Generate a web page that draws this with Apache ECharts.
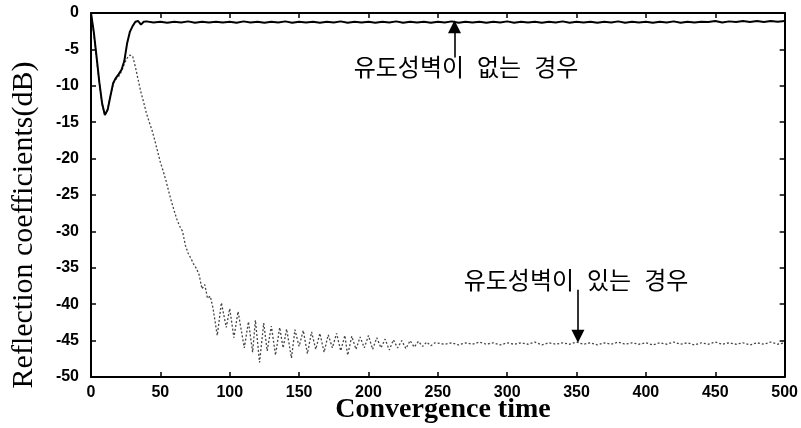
<!DOCTYPE html>
<html>
<head>
<meta charset="utf-8">
<script src="https://cdn.jsdelivr.net/npm/echarts@6.0.0/dist/echarts.min.js"></script>
<style>
    html, body { margin: 0; padding: 0; background: #fff; }
    #reflectChart { width: 801px; height: 428px; }
</style>
</head>
<body>
<div id="reflectChart"></div>
<script>
// 유도성벽이 없는 경우 (solid)
var timeNoWall = [0,2,4,6,8,10,12,14,16,18,20,22,24,26,28,30,32,34,36,38,40,
    45,50,55,60,65,70,75,80,85,90,95,100,105,110,115,120,125,130,135,140,
    145,150,155,160,165,170,175,180,185,190,195,200,205,210,215,220,225,230,235,240,
    245,250,255,260,265,270,275,280,285,290,295,300,305,310,315,320,325,330,335,340,
    345,350,355,360,365,370,375,380,385,390,395,400,405,410,415,420,425,430,435,440,
    445,450,455,460,465,470,475,480,485,490,495,500];
var dbNoWall = [0,-2.6,-6,-9.5,-12.4,-14.0,-13.3,-11.4,-9.6,-8.9,-8.4,-7.8,-6.6,-4.2,-2.6,-1.8,-1.2,-1.1,-1.6,-1.2,-1.15,
    -1.3,-1.2,-1.35,-1.2,-1.3,-1.15,-1.35,-1.2,-1.3,-1.2,
    -1.3,-1.2,-1.35,-1.15,-1.3,-1.2,-1.35,-1.2,-1.3,-1.15,
    -1.35,-1.2,-1.3,-1.2,-1.35,-1.2,-1.3,-1.15,-1.35,-1.2,
    -1.3,-1.2,-1.35,-1.2,-1.3,-1.15,-1.35,-1.2,-1.3,-1.2,
    -1.35,-1.2,-1.3,-1.15,-1.35,-1.2,-1.3,-1.2,-1.35,-1.2,
    -1.3,-1.15,-1.35,-1.2,-1.3,-1.2,-1.35,-1.2,-1.3,-1.15,
    -1.35,-1.2,-1.3,-1.2,-1.35,-1.2,-1.3,-1.15,-1.35,-1.2,
    -1.3,-1.2,-1.35,-1.2,-1.3,-1.15,-1.35,-1.2,-1.3,-1.2,
    -1.25,-1.1,-1.3,-1.15,-1.25,-1.1,-1.25,-1.1,-1.25,-1.1,
    -1.2,-1.1];

// 유도성벽이 있는 경우 (dotted)
var timeWall = [0,2,4,6,8,10,12,14,16,18,20,22,24,26,28,30,32,34,36,38,40,42,44,46,48,50,
    52,54,56,58,60,62,64,66,68,70,72,74,76,78,80,82,84,86,88,
    91,94,97.5,100,103,106,110.5,113.5,116.5,118.5,121.5,124.5,127,130,133,136,138.5,141,144.5,147,
    150,153,156,159,162,165,168,171,174,177,180,183,185,188,191,194,197,200,203,206,209,212,215,218,
    221,224,227,230,233,236,239,242,245,248,
    255,260,265,270,275,280,285,290,295,300,305,310,315,320,325,330,335,340,345,350,
    355,360,365,370,375,380,385,390,395,400,405,410,415,420,425,430,435,440,445,450,
    455,460,465,470,475,480,485,490,495,500];
var dbWall = [0,-2.8,-6.2,-9.6,-12.6,-14.0,-13.2,-11.4,-9.8,-9.1,-8.7,-8.0,-7.0,-6.2,-5.8,-5.9,-7.4,-9.2,-10.9,-12.3,-13.8,-15.0,-16.1,-17.5,-19.0,-20.5,
    -21.7,-23.0,-24.5,-25.9,-27.2,-28.4,-29.3,-30.0,-31.9,-33.0,-33.7,-34.5,-35.1,-36.0,-37.9,-37.3,-39.2,-38.9,-40.6,
    -44.3,-39.8,-43.2,-40.6,-44.6,-41.0,-46.0,-42.4,-46.6,-42.2,-48.0,-42.6,-46.4,-43.0,-47.0,-43.2,-46.0,-43.4,-47.4,-43.5,
    -45.8,-43.6,-46.8,-43.8,-46.2,-44.0,-46.6,-44.2,-46.0,-44.0,-46.4,-44.3,-47.0,-44.4,-46.2,-44.5,-46.0,-44.3,-46.2,-44.6,-46.0,-44.8,-46.3,-44.9,
    -46.0,-45.0,-46.1,-45.0,-45.9,-45.1,-45.8,-45.2,-45.7,-45.3,
    -45.5,-45.3,-45.6,-45.3,-45.5,-45.2,-45.5,-45.3,-45.6,-45.3,
    -45.5,-45.3,-45.5,-45.2,-45.6,-45.3,-45.5,-45.3,-45.5,-45.2,
    -45.5,-45.3,-45.6,-45.3,-45.5,-45.2,-45.5,-45.3,-45.5,-45.3,
    -45.6,-45.3,-45.5,-45.2,-45.5,-45.3,-45.6,-45.3,-45.5,-45.2,
    -45.5,-45.3,-45.5,-45.3,-45.6,-45.3,-45.5,-45.2,-45.5,-45.3];

var xTicks = [0, 500, 50];     // min, max, interval
var yTicks = [-50, 0, 5];

var textNoWall = '유도성벽이 없는 경우';
var textWall = '유도성벽이 있는 경우';

function toPairs(xs, ys) {
    return xs.map(function (x, i) { return [x, ys[i]]; });
}

function frameAxis(pos, ticks, showLabel) {
    return {
        type: 'value',
        position: pos,
        min: ticks[0],
        max: ticks[1],
        interval: ticks[2],
        axisLine: { show: true, onZero: false, lineStyle: { color: '#000', width: 2 } },
        axisTick: { show: true, inside: true, length: 5, lineStyle: { color: '#000', width: 1.5 } },
        splitLine: { show: false },
        axisLabel: {
            show: showLabel,
            color: '#000',
            fontFamily: 'Liberation Sans',
            fontWeight: 'bold',
            fontSize: 16,
            margin: pos === 'bottom' ? 8 : 12
        }
    };
}

// hangul label with wider word gaps
function spaced(txt) {
    return txt.split(' ').map(function (w) { return '{g|' + w + '}'; }).join('{s| }');
}

function drawChart(mid) {
    var chart = echarts.init(document.getElementById(mid));
    var hangul = { fontFamily: 'Noto Sans CJK KR', fontSize: 24, fill: '#000' };
    var gap = { width: 13, fontSize: 24 };
    var option = {
        animation: false,
        backgroundColor: '#fff',
        grid: { left: 91, right: 14, top: 13, bottom: 51 },
        xAxis: [frameAxis('bottom', xTicks, true), frameAxis('top', xTicks, false)],
        yAxis: [frameAxis('left', yTicks, true), frameAxis('right', yTicks, false)],
        series: [{
            name: textWall,
            type: 'line',
            showSymbol: false,
            data: toPairs(timeWall, dbWall),
            lineStyle: { color: '#444', width: 1.3, type: [2, 2] },
            z: 2,
            markLine: {
                silent: true,
                symbol: ['none', 'triangle'],
                symbolSize: [13, 13],
                label: { show: false },
                lineStyle: { color: '#000', width: 1.6, type: 'solid' },
                data: [[{ coord: [351, -38] }, { coord: [351, -44.4] }]]
            }
        }, {
            name: textNoWall,
            type: 'line',
            showSymbol: false,
            data: toPairs(timeNoWall, dbNoWall),
            lineStyle: { color: '#000', width: 2 },
            z: 3,
            markLine: {
                silent: true,
                symbol: ['none', 'triangle'],
                symbolSize: [13, 13],
                label: { show: false },
                lineStyle: { color: '#000', width: 1.6, type: 'solid' },
                data: [[{ coord: [262, -6.1] }, { coord: [262, -1.9] }]]
            }
        }],
        graphic: [{
            type: 'text',
            x: 24, y: 225,
            rotation: Math.PI / 2,
            style: {
                text: 'Reflection coefficients(dB)',
                font: '30px "Liberation Serif"',
                fill: '#000',
                align: 'center',
                verticalAlign: 'middle'
            }
        }, {
            type: 'text',
            x: 443, y: 410,
            style: {
                text: 'Convergence time',
                font: 'bold 28px "Liberation Serif"',
                fill: '#000',
                align: 'center',
                verticalAlign: 'middle'
            }
        }, {
            type: 'text',
            x: 466, y: 67,
            style: {
                text: spaced(textNoWall),
                rich: { g: hangul, s: gap },
                align: 'center',
                verticalAlign: 'middle'
            }
        }, {
            type: 'text',
            x: 576, y: 280,
            style: {
                text: spaced(textWall),
                rich: { g: hangul, s: gap },
                align: 'center',
                verticalAlign: 'middle'
            }
        }]
    };
    chart.setOption(option);
    window.addEventListener('resize', function () {
        chart.resize();
    });
}

drawChart('reflectChart');
</script>
</body>
</html>
